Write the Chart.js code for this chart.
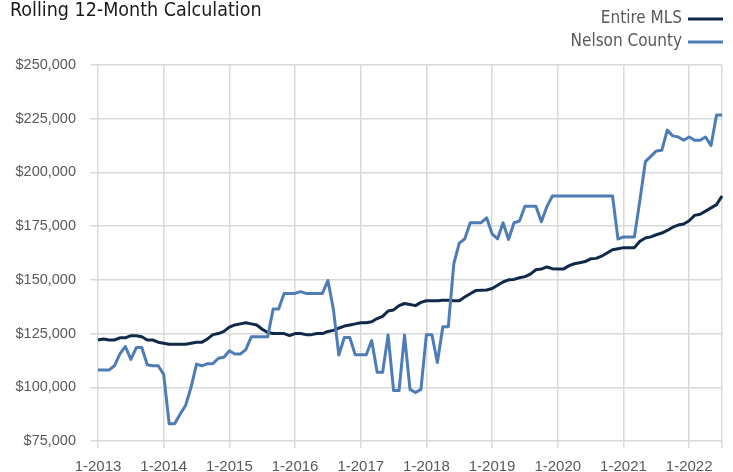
<!DOCTYPE html>
<html>
<head>
<meta charset="utf-8">
<script src="https://cdn.jsdelivr.net/npm/chart.js@4.4.0/dist/chart.umd.min.js"></script>
<style>
  html, body { margin: 0; padding: 0; background: #fff; overflow: hidden; }
  #wrap { width: 733px; height: 486px; position: relative; }
</style>
</head>
<body>
<div id="wrap"><canvas id="myChart"></canvas></div>
<script>
// Catégories : mois de 1-2013 à 7-2022
const firstYear = 2013;
const monthCount = 115;
const months = [];
for (let i = 0; i < monthCount; i++) {
  months.push((i % 12 + 1) + '-' + (firstYear + Math.floor(i / 12)));
}

const seriesNames = ['Entire MLS', 'Nelson County'];

// Moyenne glissante 12 mois - ensemble MLS
const entireMls = [
  122000, 122500, 122000, 122000, 123000, 123000, 124000, 124000, 123500, 122000, 122000, 121000,
  120500, 120000, 120000, 120000, 120000, 120500, 121000, 121000, 122500, 124500, 125000, 126000,
  128000, 129000, 129500, 130000, 129500, 129000, 127000, 125500, 125000, 125000, 125000, 124000,
  125000, 125000, 124500, 124500, 125000, 125000, 126000, 126500, 127500, 128500, 129000, 129500,
  130000, 130000, 130500, 132000, 133000, 135500, 136000, 138000, 139000, 138500, 138000, 139500,
  140300, 140300, 140300, 140500, 140500, 140300, 140300, 142000, 143500, 145000, 145200, 145300,
  146000, 147500, 149000, 150000, 150200, 151000, 151500, 152700, 154700, 155000, 156000, 155200,
  155000, 155000, 156500, 157500, 158000, 158500, 159800, 160000, 161000, 162500, 164000, 164500,
  165000, 165000, 165000, 168000, 169500, 170000, 171000, 171800, 173000, 174500, 175500, 176000,
  177500, 180000, 180500, 182000, 183500, 185000, 189000
];

// Moyenne glissante 12 mois - Nelson County
const nelsonCounty = [
  108000, 108000, 108000, 110000, 115500, 119000, 113000, 118500, 118500, 110500, 110000, 110000,
  106000, 83000, 83000, 87500, 91500, 100000, 110800, 110000, 111000, 111000, 113500, 114000,
  117000, 115500, 115500, 117500, 123500, 123500, 123500, 123500, 136400, 136400, 143700, 143700,
  143700, 144500, 143700, 143700, 143700, 143700, 149700, 136400, 115000, 123200, 123200, 115100,
  115100, 115100, 121800, 107000, 107000, 124300, 98500, 98500, 124300, 99000, 97600, 99000,
  124500, 124500, 111500, 128200, 128200, 157400, 167100, 169000, 176600, 176600, 176600, 178900,
  171400, 169100, 176600, 168800, 176600, 177400, 184300, 184300, 184300, 177000, 184000, 189000,
  189000, 189000, 189000, 189000, 189000, 189000, 189000, 189000, 189000, 189000, 189000, 169000,
  170000, 170000, 170000, 187000, 205000, 207500, 210000, 210300, 219700, 217000, 216500, 215000,
  216500, 215000, 215000, 216500, 212500, 226700, 226700
];

const yTicks = { min: 75000, max: 250000, step: 25000 };

const colors = ['#10294b', '#4d7cb6'];
const gridColor = '#d9d9d9';
const narrowFont = "'Liberation Sans Narrow', 'DejaVu Sans Condensed', sans-serif";
const tickFont = "'Liberation Sans', Arial, sans-serif";

// Légende à droite, texte puis trait
const legendRight = {
  id: 'legendRight',
  afterDraw(chart) {
    const c = chart.ctx;
    c.save();
    c.font = '17px ' + narrowFont;
    c.textAlign = 'right';
    c.textBaseline = 'middle';
    chart.data.datasets.forEach((ds, i) => {
      const y = 19 + i * 23;
      c.fillStyle = '#595959';
      c.fillText(ds.label, 682, y);
      c.strokeStyle = ds.borderColor;
      c.lineWidth = 3;
      c.beginPath();
      c.moveTo(688, y);
      c.lineTo(723, y);
      c.stroke();
    });
    c.restore();
  }
};

const isJanuary = ctx => ctx.index % 12 === 0 || ctx.index === monthCount - 1;

const ctx = document.getElementById('myChart').getContext('2d');
const myChart = new Chart(ctx, {
  type: 'line',
  data: {
    labels: months,
    datasets: [
      { label: seriesNames[0], data: entireMls, borderColor: colors[0], order: 1 },
      { label: seriesNames[1], data: nelsonCounty, borderColor: colors[1], order: 0 }
    ]
  },
  options: {
    responsive: true,
    maintainAspectRatio: false,
    animation: false,
    layout: { padding: { left: 10, right: 11, top: 0, bottom: 0 } },
    elements: {
      line: { borderWidth: 3, tension: 0, borderJoinStyle: 'round' },
      point: { radius: 0 }
    },
    plugins: {
      legend: { display: false },
      tooltip: { enabled: false },
      title: {
        display: true,
        text: 'Rolling 12-Month Calculation',
        align: 'start',
        color: '#1a1a1a',
        font: { family: narrowFont, size: 19.5, weight: 'normal', lineHeight: 1.0 },
        padding: { top: 1, bottom: 44.5 }
      }
    },
    scales: {
      x: {
        type: 'category',
        offset: false,
        border: { display: false },
        grid: {
          color: c => isJanuary(c) ? gridColor : 'rgba(0,0,0,0)',
          lineWidth: 1.5,
          tickLength: 7
        },
        ticks: {
          autoSkip: false,
          maxRotation: 0,
          color: '#595959',
          padding: 10,
          font: { family: tickFont, size: 15 },
          callback: (v, i) => i % 12 === 0 ? months[i] : ''
        }
      },
      y: {
        min: yTicks.min,
        max: yTicks.max,
        border: { display: false },
        afterFit: s => { s.width = 88; },
        grid: { color: gridColor, lineWidth: 1.5, tickLength: 8 },
        ticks: {
          stepSize: yTicks.step,
          color: '#595959',
          padding: 14,
          font: { family: tickFont, size: 14.5 },
          callback: v => '$' + v.toLocaleString('en-US')
        }
      }
    }
  },
  plugins: [legendRight]
});
</script>
</body>
</html>
